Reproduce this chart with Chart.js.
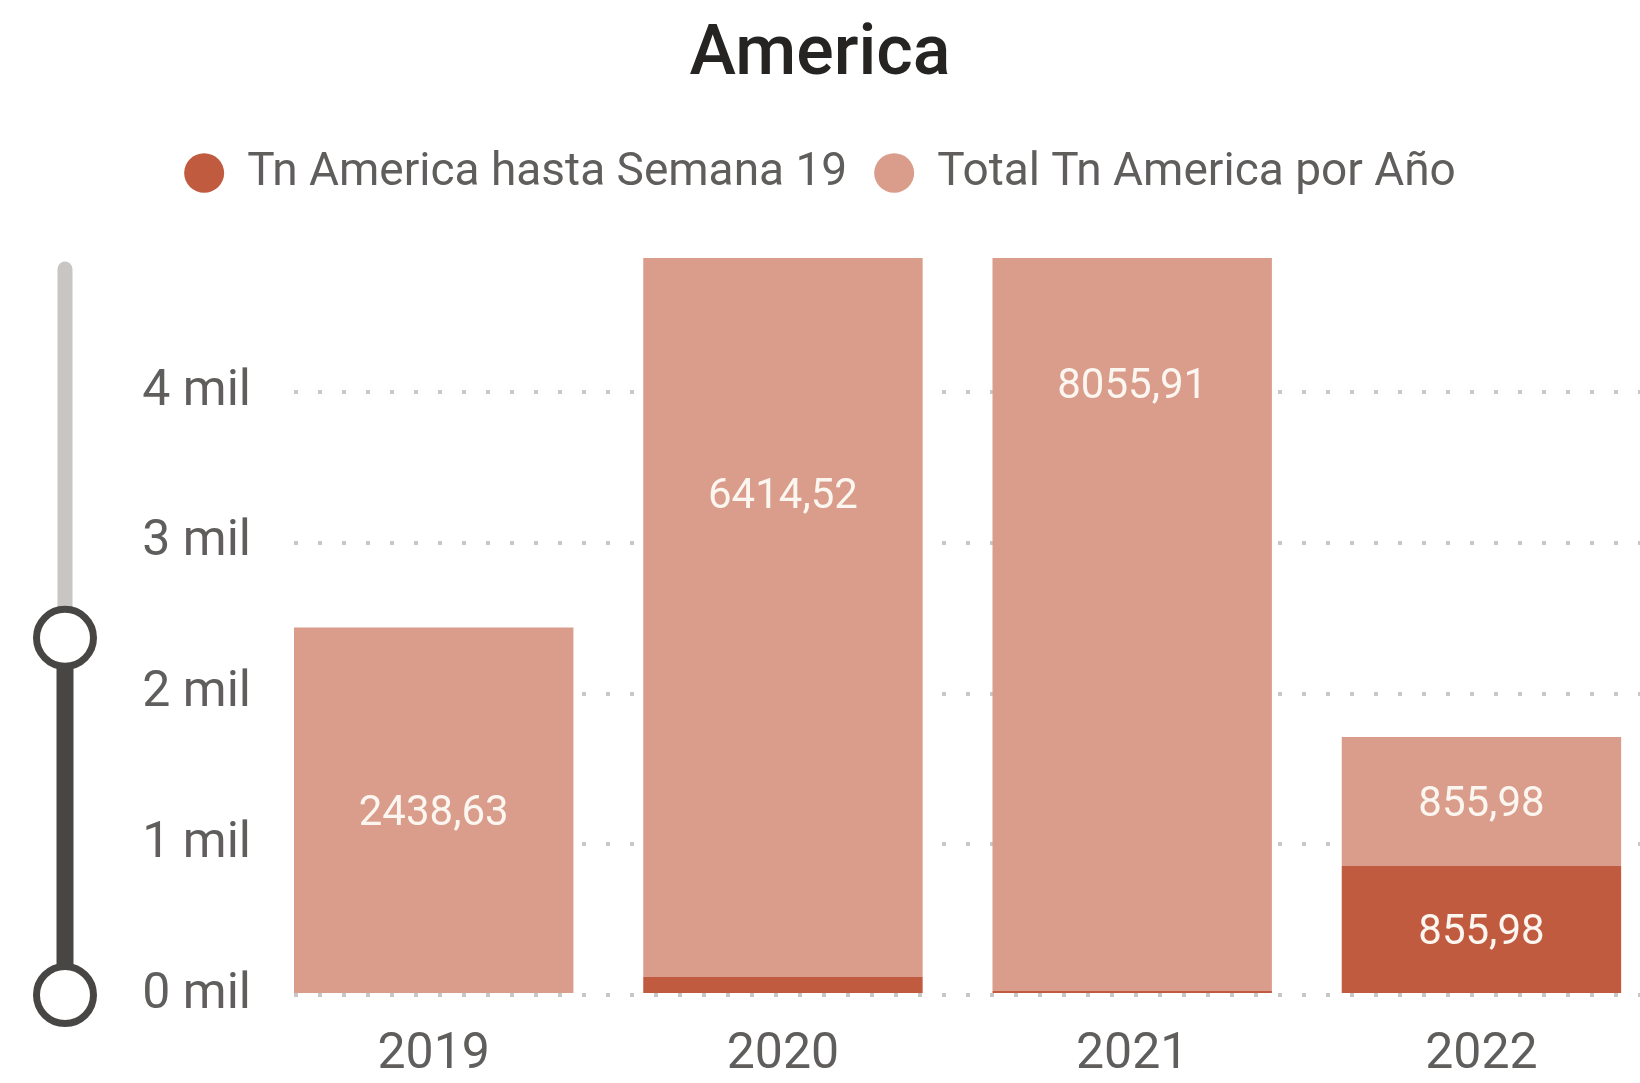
<!DOCTYPE html>
<html>
<head>
<meta charset="utf-8">
<title>America</title>
<script src="https://cdn.jsdelivr.net/npm/chart.js@4.4.1/dist/chart.umd.min.js"></script>
<style>
  html, body { margin: 0; padding: 0; background: #fff; }
  #wrap { width: 1640px; height: 1083px; position: relative; }
</style>
</head>
<body>
<div id="wrap"><canvas id="chart"></canvas></div>
<script>
// datos
const years = ['2019', '2020', '2021', '2022'];
const semana19 = [0, 120, 27, 855.98];
const totalAnio = [2438.63, 6414.52, 8055.91, 855.98];
const yTickValues = [0, 1000, 2000, 3000, 4000];
const yTickLabels = ['0 mil', '1 mil', '2 mil', '3 mil', '4 mil'];
const yMax = 4890;
const sliderRange = [0, 2370];

const darkColor = '#C15B3F';
const lightColor = '#DA9C8B';
const textGrey = '#605E5C';

// espacio extra debajo de la leyenda
const legendGap = {
  id: 'legendGap',
  beforeInit(chart) {
    const fit = chart.legend.fit;
    chart.legend.fit = function () {
      fit.bind(chart.legend)();
      this.height += 52;
    };
  }
};

// etiquetas de valor dentro de cada barra
const barLabels = {
  id: 'barLabels',
  afterDatasetsDraw(chart) {
    const ctx = chart.ctx;
    ctx.save();
    ctx.font = '42px Roboto';
    ctx.fillStyle = '#FBF7F0';
    ctx.textAlign = 'center';
    ctx.textBaseline = 'middle';
    chart.data.datasets.forEach((ds, di) => {
      const meta = chart.getDatasetMeta(di);
      meta.data.forEach((bar, i) => {
        const v = ds.data[i].y;
        if (Math.abs(bar.base - bar.y) < 45) return;
        const label = v.toFixed(2).replace('.', ',');
        ctx.fillText(label, bar.x, (bar.y + bar.base) / 2 + 4);
      });
    });
    ctx.restore();
  }
};

// control deslizante de zoom a la izquierda
const zoomSlider = {
  id: 'zoomSlider',
  afterDraw(chart) {
    const ctx = chart.ctx;
    const area = chart.chartArea;
    const y = chart.scales.y;
    const x = 65;
    const yLow = y.getPixelForValue(sliderRange[0]);
    const yHigh = y.getPixelForValue(sliderRange[1]);
    ctx.save();
    ctx.lineCap = 'round';
    ctx.lineWidth = 15;
    ctx.strokeStyle = '#C8C6C4';
    ctx.beginPath();
    ctx.moveTo(x, area.top + 11);
    ctx.lineTo(x, yHigh);
    ctx.stroke();
    ctx.lineCap = 'butt';
    ctx.lineWidth = 17;
    ctx.strokeStyle = '#484644';
    ctx.beginPath();
    ctx.moveTo(x, yHigh);
    ctx.lineTo(x, yLow);
    ctx.stroke();
    [yHigh, yLow].forEach(cy => {
      ctx.beginPath();
      ctx.arc(x, cy, 28.5, 0, Math.PI * 2);
      ctx.fillStyle = '#fff';
      ctx.fill();
      ctx.lineWidth = 7;
      ctx.strokeStyle = '#484644';
      ctx.stroke();
    });
    ctx.restore();
  }
};

const ctx = document.getElementById('chart').getContext('2d');
new Chart(ctx, {
  type: 'bar',
  data: {
    datasets: [
      {
        label: 'Tn America hasta Semana 19',
        data: years.map((_, i) => ({ x: i, y: semana19[i] })),
        backgroundColor: darkColor,
        stack: 'a'
      },
      {
        label: 'Total Tn America por Año',
        data: years.map((_, i) => ({ x: i, y: totalAnio[i] })),
        backgroundColor: lightColor,
        stack: 'a'
      }
    ]
  },
  options: {
    responsive: true,
    maintainAspectRatio: false,
    animation: false,
    barPercentage: 0.8,
    categoryPercentage: 1,
    layout: { padding: 0 },
    scales: {
      x: {
        type: 'linear',
        min: -0.4,
        max: 3.454,
        offset: false,
        stacked: true,
        grid: { display: false },
        border: { display: false },
        afterBuildTicks: s => { s.ticks = years.map((_, i) => ({ value: i })); },
        afterFit: s => { s.height = 88; },
        ticks: {
          autoSkip: false,
          maxRotation: 0,
          padding: 22,
          color: textGrey,
          font: { family: 'Roboto', size: 50 },
          callback: v => years[v]
        }
      },
      y: {
        min: 0,
        max: yMax,
        stacked: true,
        grid: { color: '#C8C8C8', lineWidth: 4, drawTicks: false },
        border: { display: false, dash: [4, 20] },
        afterBuildTicks: s => { s.ticks = yTickValues.map(v => ({ value: v })); },
        afterFit: s => { s.width = 294; },
        ticks: {
          padding: 43,
          color: textGrey,
          font: { family: 'Roboto', size: 50 },
          callback: (v, i) => yTickLabels[i]
        }
      }
    },
    plugins: {
      title: {
        display: true,
        text: 'America',
        color: '#252423',
        font: { family: 'Roboto', size: 70, weight: '500' },
        padding: { top: 14, bottom: 25 }
      },
      legend: {
        display: true,
        position: 'top',
        labels: {
          usePointStyle: true,
          pointStyle: 'circle',
          boxHeight: 28,
          pointStyleWidth: 40,
          padding: 27,
          color: textGrey,
          font: { family: 'Roboto', size: 46 }
        }
      },
      tooltip: { enabled: false }
    }
  },
  plugins: [legendGap, barLabels, zoomSlider]
});
</script>
</body>
</html>
